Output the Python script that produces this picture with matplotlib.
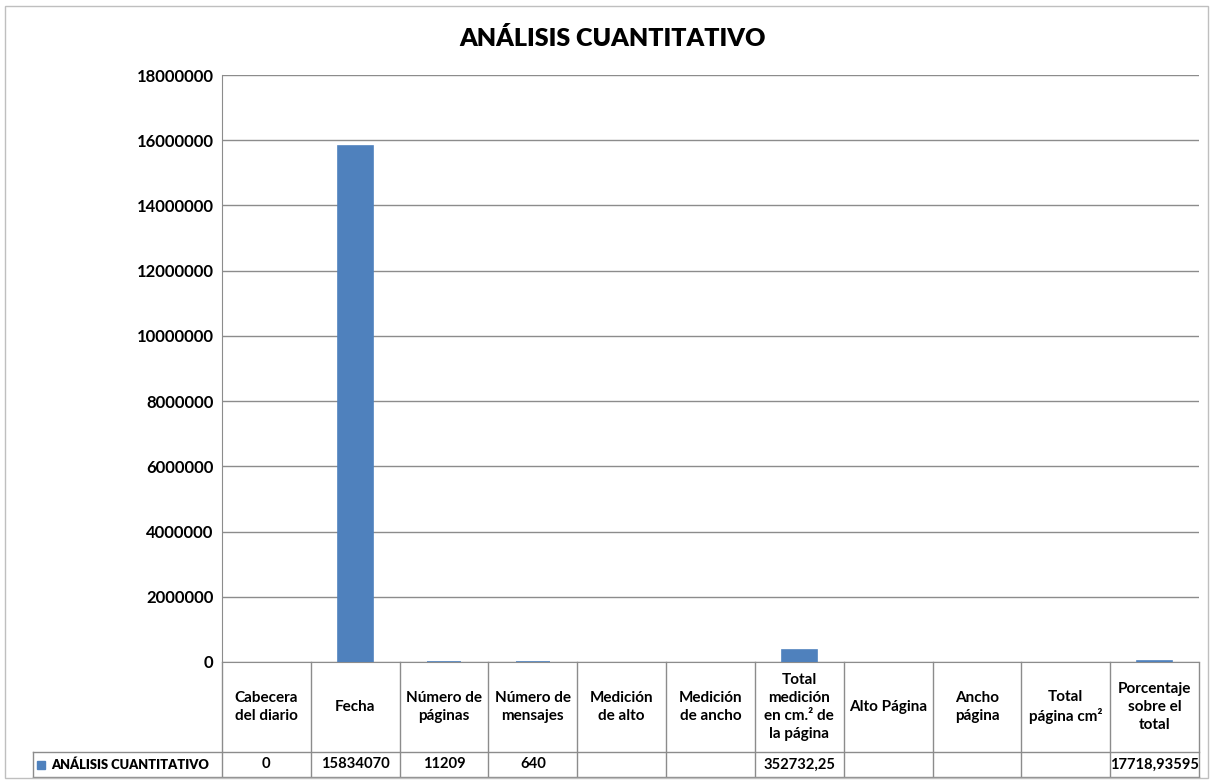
import matplotlib.pyplot as plt
import matplotlib.patches as mpatches
import numpy as np

plt.rcParams['font.family'] = ['Lato', 'DejaVu Sans']

title = 'ANÁLISIS CUANTITATIVO'
series_name = 'ANÁLISIS CUANTITATIVO'
categories = ['Cabecera\ndel diario', 'Fecha', 'Número de\npáginas', 'Número de\nmensajes',
              'Medición\nde alto', 'Medición\nde ancho', 'Total\nmedición\nen cm.² de\nla página',
              'Alto Página', 'Ancho\npágina', 'Total\npágina cm²', 'Porcentaje\nsobre el\ntotal']
values = [0, 15834070, 11209, 640, np.nan, np.nan, 352732.25, np.nan, np.nan, np.nan, 17718.93595]
yticks = np.arange(0, 18000001, 2000000)

bar_color = '#4F81BD'
line_color = '#8C8C8C'

W, H = 1213, 782
fig = plt.figure(figsize=(W / 100, H / 100), dpi=100)
# plot area in pixels: left 222, right 1199, top 75, bottom 662
ax = fig.add_axes([222 / W, (H - 662) / H, 977 / W, 587 / H])

x = np.arange(len(categories))
vals = np.array(values, dtype=float)
lw = [1.2 if (not np.isnan(v) and v > 0) else 0 for v in vals]
ax.bar(x, np.nan_to_num(vals), width=0.39, color=bar_color, edgecolor=bar_color, linewidth=lw, zorder=3)

ax.set_xlim(-0.5, len(categories) - 0.5)
ax.set_ylim(0, 18000000)
ax.set_yticks(yticks)
ax.set_yticklabels([str(int(t)) for t in yticks], fontsize=12, fontweight='bold')
ax.set_xticks([])
ax.tick_params(axis='y', length=0, pad=6)
ax.yaxis.grid(True, color=line_color, linewidth=1)
ax.set_axisbelow(True)
for s in ['top', 'right']:
    ax.spines[s].set_visible(False)
ax.spines['left'].set_color(line_color)
ax.spines['bottom'].set_color(line_color)

# data table below the plot
px = 1 / 587.0
y_head = -90 * px
y_val = -115 * px
tr = ax.get_xaxis_transform()
for i in range(len(categories) + 1):
    ax.plot([i - 0.5, i - 0.5], [0, y_val], transform=tr, color=line_color, lw=1, clip_on=False)
leg_left = (33 - 222) / 977.0
ax.plot([leg_left, 1], [y_head, y_head], transform=ax.transAxes, color=line_color, lw=1, clip_on=False)
ax.plot([leg_left, 1], [y_val, y_val], transform=ax.transAxes, color=line_color, lw=1, clip_on=False)
ax.plot([leg_left, leg_left], [y_head, y_val], transform=ax.transAxes, color=line_color, lw=1, clip_on=False)

for i, (c, v) in enumerate(zip(categories, vals)):
    ax.text(i, y_head / 2, c, transform=tr, ha='center', va='center', fontsize=11,
            fontweight='bold', linespacing=1.35, color='black')
    if np.isnan(v):
        lab = ''
    elif float(v).is_integer():
        lab = str(int(v))
    else:
        lab = str(v).replace('.', ',')
    ax.text(i, (y_head + y_val) / 2, lab, transform=tr, ha='center', va='center',
            fontsize=10.6, fontweight='bold', color='black')

ax.add_patch(mpatches.Rectangle(((37 - 222) / 977.0, (y_head + y_val) / 2 - 4 * px), 8 / 977.0, 8 * px,
                                transform=ax.transAxes, color=bar_color, clip_on=False))
ax.text((51 - 222) / 977.0, (y_head + y_val) / 2, series_name, transform=ax.transAxes,
        ha='left', va='center', fontsize=9.3, fontweight='heavy', color='black')

fig.text(613 / W, 1 - 38 / H, title, ha='center', va='center', fontsize=18, fontweight='heavy')

# outer chart border
fig.add_artist(mpatches.Rectangle((5 / W, 4 / H), 1203 / W, 772 / H, transform=fig.transFigure,
                                  fill=False, edgecolor='#BFBFBF', lw=1))

fig.savefig('out.png', dpi=100)
